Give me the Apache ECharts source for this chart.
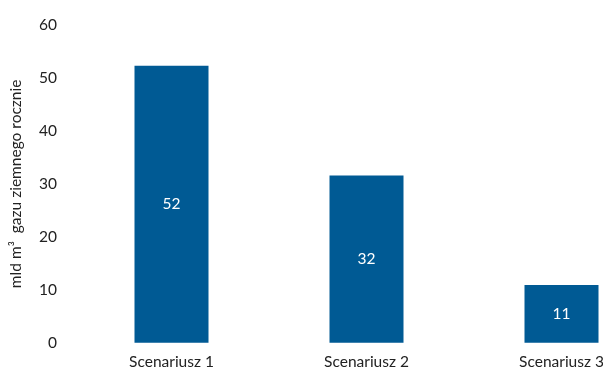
<!DOCTYPE html>
<html>
<head>
<meta charset="utf-8">
<script src="https://cdn.jsdelivr.net/npm/echarts@6/dist/echarts.min.js"></script>
<style>html,body{margin:0;padding:0;background:#fff;overflow:hidden;width:603px;height:371px}#c{width:660px;height:371px}</style>
</head>
<body>
<div id="c"></div>
<script>
var categories = ['Scenariusz 1', 'Scenariusz 2', 'Scenariusz 3'];
var values = [52.3, 31.6, 10.9];
var yTicks = [0, 10, 20, 30, 40, 50, 60];
var yTitle = 'mld m³  gazu ziemnego rocznie';

var FS = 15.5;
var chart = echarts.init(document.getElementById('c'), null, {renderer: 'canvas'});
chart.setOption({
  animation: false,
  backgroundColor: '#fff',
  textStyle: {fontFamily: 'Lato'},
  grid: {left: 68.5, right: 1, top: 25, bottom: 28.3, containLabel: false},
  xAxis: {
    type: 'category',
    data: categories,
    axisLine: {show: false},
    axisTick: {show: false},
    axisLabel: {color: '#222', fontSize: FS, fontFamily: 'Lato', margin: 11}
  },
  yAxis: {
    type: 'value',
    min: yTicks[0],
    max: yTicks[yTicks.length - 1],
    interval: 10,
    name: yTitle,
    nameLocation: 'middle',
    nameGap: 50,
    nameTextStyle: {color: '#222', fontSize: FS, fontFamily: 'Lato'},
    axisLine: {show: false},
    axisTick: {show: false},
    splitLine: {show: false},
    axisLabel: {color: '#222', fontSize: FS, fontFamily: 'Lato', margin: 17}
  },
  series: [{
    type: 'bar',
    data: values,
    barWidth: 74,
    itemStyle: {color: '#005A94'},
    label: {
      show: true,
      position: 'inside',
      color: '#fff',
      fontSize: FS,
      fontFamily: 'Lato',
      formatter: function (p) { return Math.round(p.value); }
    }
  }]
});
</script>
</body>
</html>
